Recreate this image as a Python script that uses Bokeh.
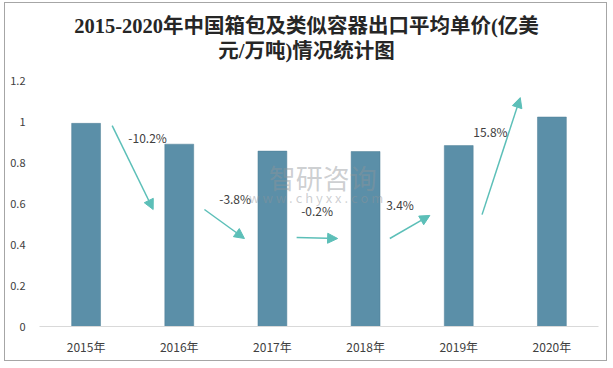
from bokeh.plotting import figure
from bokeh.models import Range1d, FixedTicker, Arrow, NormalHead, Label
from bokeh.embed import file_html
from bokeh.resources import INLINE

# ---- data ----
years = ["2015年", "2016年", "2017年", "2018年", "2019年", "2020年"]
prices = [0.995, 0.893, 0.859, 0.857, 0.886, 1.026]
growth = ["-10.2%", "-3.8%", "-0.2%", "3.4%", "15.8%"]
y_ticks = [0, 0.2, 0.4, 0.6, 0.8, 1.0, 1.2]
y_tick_labels = ["0", "0.2", "0.4", "0.6", "0.8", "1", "1.2"]
title_lines = ["2015-2020年中国箱包及类似容器出口平均单价(亿美", "元/万吨)情况统计图"]

# ---- annotation layout (arrows between bars) ----
arrow_y0 = [0.984, 0.573, 0.436, 0.431, 0.548]
arrow_y1 = [0.573, 0.431, 0.431, 0.544, 1.121]
arrow_dx0 = [0.28, 0.27, 0.26, 0.26, 0.25]
arrow_dx1 = [0.72, 0.70, 0.70, 0.69, 0.66]
label_dx = [0.66, 0.60, 0.48, 0.37, 0.34]
label_y = [0.926, 0.627, 0.568, 0.597, 0.955]
title_sy = [301, 276]   # screen offsets above frame bottom

BAR = "#5b8fa8"
TEAL = "#5cbfb8"
TXT = "#404040"
CJK = "Noto Sans CJK SC"

x = list(range(len(years)))

# frame spans the full height above the x axis; ticks stop at 1.2,
# the space above holds the title
p = figure(width=603, height=359, output_backend="svg", toolbar_location=None,
           x_range=Range1d(-0.5, len(years) - 0.5), y_range=Range1d(0, 1.582),
           min_border_left=34, min_border_right=10, min_border_bottom=36,
           min_border_top=0)
p.styles = {"border": "1px solid #a6a6a6", "margin-left": "4px", "margin-top": "2px"}
p.outline_line_color = None
p.grid.visible = False
p.background_fill_color = "white"
p.border_fill_color = "white"

p.vbar(x=x, top=prices, width=0.31, fill_color=BAR, line_color="#4f7f96", line_width=0.5)

# axes
p.xaxis.ticker = FixedTicker(ticks=x)
p.xaxis.major_label_overrides = {i: y for i, y in enumerate(years)}
p.xaxis.axis_line_color = "#d9d9d9"
p.xaxis.axis_line_width = 1
p.xaxis.major_tick_line_color = None
p.xaxis.minor_tick_line_color = None
p.xaxis.major_label_standoff = 5
p.xaxis.major_label_text_font = CJK
p.xaxis.major_label_text_font_size = "12px"
p.xaxis.major_label_text_color = TXT

p.yaxis.ticker = FixedTicker(ticks=y_ticks)
p.yaxis.major_label_overrides = {t: s for t, s in zip(y_ticks, y_tick_labels)}
p.yaxis.axis_line_color = None
p.yaxis.major_tick_line_color = None
p.yaxis.minor_tick_line_color = None
p.yaxis.major_label_standoff = 8
p.yaxis.major_label_text_font = CJK
p.yaxis.major_label_text_font_size = "11px"
p.yaxis.major_label_text_color = TXT

# watermark
p.add_layout(Label(x=2.54, y=0.73, text="智研咨询", text_font=CJK, text_font_size="27px",
                   text_color="#8f9499", text_alpha=0.45, text_align="center",
                   text_baseline="middle"))
p.add_layout(Label(x=2.47, y=0.63, text="w w w . c h y x x . c o m", text_font=CJK,
                   text_font_size="13px", text_color="#8f9499", text_alpha=0.45,
                   text_align="center", text_baseline="middle"))

# arrows + growth labels
for i, g in enumerate(growth):
    p.add_layout(Arrow(x_start=i + arrow_dx0[i], y_start=arrow_y0[i],
                       x_end=i + arrow_dx1[i], y_end=arrow_y1[i],
                       line_color=TEAL, line_width=1.5,
                       end=NormalHead(size=10, fill_color=TEAL, line_color=TEAL)))
    p.add_layout(Label(x=i + label_dx[i], y=label_y[i], text=g, text_font=CJK,
                       text_font_size="12px", text_color=TXT, text_align="center",
                       text_baseline="middle"))

# two-line centred title
TFONT = "Liberation Serif, Noto Sans CJK SC"
for line, sy in zip(title_lines, title_sy):
    p.add_layout(Label(x=267, y=sy, x_units="screen", y_units="screen", text=line,
                       text_font=TFONT, text_font_size="20.5px", text_font_style="bold",
                       text_color="#262626", text_align="center", text_baseline="middle"))

open("out.html", "w").write(file_html(p, INLINE))
